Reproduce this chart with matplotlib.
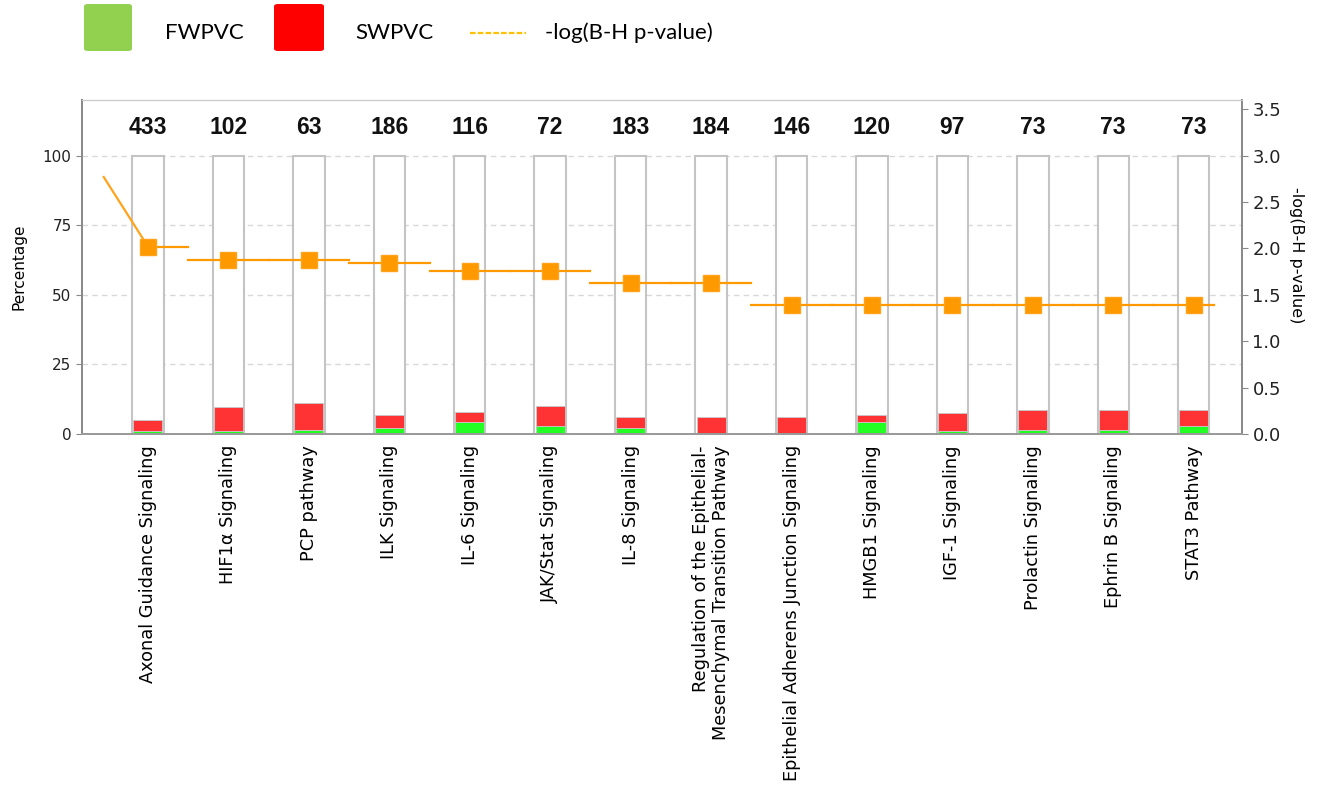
import matplotlib
matplotlib.use("Agg")
import matplotlib.pyplot as plt
from matplotlib.patches import FancyBboxPatch
from matplotlib.lines import Line2D
import numpy as np

# data
pathways = ["Axonal Guidance Signaling", "HIF1\u03b1 Signaling", "PCP pathway", "ILK Signaling",
            "IL-6 Signaling", "JAK/Stat Signaling", "IL-8 Signaling",
            "Regulation of the Epithelial-\nMesenchymal Transition Pathway",
            "Epithelial Adherens Junction Signaling", "HMGB1 Signaling", "IGF-1 Signaling",
            "Prolactin Signaling", "Ephrin B Signaling", "STAT3 Pathway"]
gene_counts = [433, 102, 63, 186, 116, 72, 183, 184, 146, 120, 97, 73, 73, 73]
fwpvc = [1.2, 1.0, 1.6, 2.2, 4.2, 2.8, 2.2, 0.0, 0.0, 4.4, 1.0, 1.4, 1.4, 2.9]
swpvc = [3.8, 8.6, 9.5, 4.6, 3.6, 7.2, 3.9, 6.1, 6.1, 2.6, 6.7, 7.1, 7.1, 5.6]
neg_log_p = [2.02, 1.88, 1.88, 1.84, 1.76, 1.76, 1.63, 1.63, 1.39, 1.39, 1.39, 1.39, 1.39, 1.39]
lead_val = 2.77  # where the threshold line enters at the left

W, H = 1326, 793
fig = plt.figure(figsize=(W / 100, H / 100), dpi=100)
ax = fig.add_axes([82 / W, 1 - 434 / H, (1242 - 82) / W, (434 - 100) / H])
ax2 = ax.twinx()

x = np.arange(len(pathways))
ax.set_axisbelow(True)
ax.yaxis.grid(True, color="#d8d8d8", linestyle=(0, (4, 3)), linewidth=1)

# full-height outline bars, then stacked values
ax.bar(x, 100, width=0.39, color="white", edgecolor="#c4c4c4", linewidth=1.5, zorder=2)
ax.bar(x, fwpvc, width=0.36, color="#22ff22", edgecolor="#c8c8c8", linewidth=0.6, zorder=3)
ax.bar(x, swpvc, bottom=fwpvc, width=0.36, color="#ff3333", edgecolor="#c8c8c8", linewidth=0.6, zorder=3)

for xi, n in zip(x, gene_counts):
    ax.text(xi, 110, str(n), ha="center", va="center", fontsize=16.5, fontweight="bold",
            family="Liberation Sans", color="#111111")

ax.set_xlim(-0.82, 13.6)
ax.set_ylim(0, 120)
ax.set_yticks([0, 25, 50, 75, 100])
ax.set_xticks(x)
ax.set_xticklabels(pathways, rotation=90, fontsize=12.8, ha="center", va="top",
                   multialignment="right")
ax.tick_params(axis="x", length=0, pad=8)
ax.tick_params(axis="y", colors="#888888", labelcolor="#222222", labelsize=11, length=4)
ax.set_ylabel("Percentage", fontsize=11, labelpad=12)

# threshold line: horizontal pieces per pathway, with a leading slope
ax2.plot([-0.55, 0], [lead_val, neg_log_p[0]], color="#ffa31a", linewidth=1.6)
for i, v in enumerate(neg_log_p):
    x0 = i - 0.5 if i > 0 else i
    x1 = i + 0.5 if i < len(neg_log_p) - 1 else i + 0.25
    ax2.plot([x0, x1], [v, v], color="#ff9900", linewidth=1.6)
ax2.plot(x, neg_log_p, linestyle="none", marker="s", markersize=11,
         color="#ff9900", markeredgecolor="#ffa31a")
ax2.set_ylim(0, 3.6)
ax2.set_yticks(np.arange(0, 3.51, 0.5))
ax2.set_yticklabels([f"{t:.1f}" for t in np.arange(0, 3.51, 0.5)])
ax2.tick_params(axis="y", colors="#888888", labelcolor="#222222", labelsize=13, length=4)
ax2.set_ylabel("-log(B-H p-value)", rotation=270, fontsize=11.5, va="center")
ax2.yaxis.set_label_coords(1.047, 0.536)

for a in (ax, ax2):
    for s in a.spines.values():
        s.set_color("#c8c8c8")
    a.spines["left"].set_color("#8a8a8a")
    a.spines["right"].set_color("#8a8a8a")
    a.spines["bottom"].set_color("#9a9a9a")
    a.spines["left"].set_linewidth(1.4)
    a.spines["right"].set_linewidth(1.4)
    a.spines["bottom"].set_linewidth(1.4)

# legend at the top
def fx(px):
    return px / W

def fy(py):
    return 1 - py / H

fig.add_artist(FancyBboxPatch((fx(84), fy(51)), fx(48), 47 / H,
                              boxstyle="round,pad=0,rounding_size=0.003",
                              facecolor="#92d050", edgecolor="none", transform=fig.transFigure))
fig.add_artist(FancyBboxPatch((fx(274), fy(51)), fx(50), 47 / H,
                              boxstyle="round,pad=0,rounding_size=0.003",
                              facecolor="#ff0000", edgecolor="none", transform=fig.transFigure))
fig.add_artist(Line2D([fx(470), fx(526)], [fy(33), fy(33)], color="#ffc000",
                      linestyle=(0, (2.5, 1)), linewidth=1.6, transform=fig.transFigure))
fig.text(fx(165), fy(33), "FWPVC", fontsize=16, family="Lato", va="center")
fig.text(fx(355), fy(33), "SWPVC", fontsize=16, family="Lato", va="center")
fig.text(fx(545), fy(33), "-log(B-H p-value)", fontsize=16, family="Lato", va="center")

fig.savefig("out.png", dpi=100, facecolor="white")
